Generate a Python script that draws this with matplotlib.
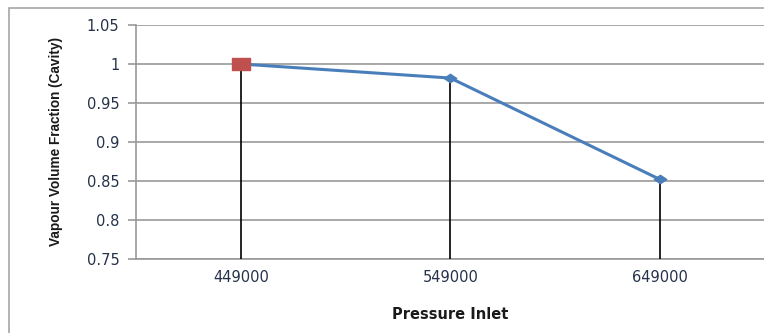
import matplotlib
matplotlib.use("Agg")
import matplotlib.pyplot as plt
from matplotlib.patches import Rectangle
from matplotlib.path import Path

# Data
pressure_inlet = ["449000", "549000", "649000"]
vapour_fraction = [1.0, 0.982, 0.852]

y_ticks = [0.75, 0.8, 0.85, 0.9, 0.95, 1.0, 1.05]
y_tick_labels = ["0.75", "0.8", "0.85", "0.9", "0.95", "1", "1.05"]

W, H = 764, 333
fig = plt.figure(figsize=(W / 100, H / 100), dpi=100)
fig.patch.set_facecolor("white")

# Outer chart frame
fig.add_artist(Rectangle((9 / W, -0.1), 2, 1 - 8 / H + 0.1, transform=fig.transFigure,
                         fill=False, edgecolor="#a6a6a6", linewidth=1.2))

ax = fig.add_axes([136 / W, 74 / H, 1 - 136 / W + 0.001, 234 / H])
ax.set_facecolor("none")

x = list(range(len(pressure_inlet)))
ax.set_xlim(-0.5, len(pressure_inlet) - 0.5)
ax.set_ylim(0.75, 1.05)

tick_font = {"family": ["DejaVu Sans"], "size": 10.5}
ax.set_yticks(y_ticks)
ax.set_yticklabels(y_tick_labels, fontdict=tick_font)
ax.set_xticks(x)
ax.set_xticklabels(pressure_inlet, fontdict=tick_font)

ax.grid(axis="y", color="#999999", linewidth=1.2)
ax.set_axisbelow(True)

for s in ["top", "right"]:
    ax.spines[s].set_visible(False)
for s in ["left", "bottom"]:
    ax.spines[s].set_color("#999999")
    ax.spines[s].set_linewidth(1.2)

ax.tick_params(axis="y", length=6, width=1.2, color="#999999", pad=6,
               labelcolor="#26324a")
ax.tick_params(axis="x", length=0, pad=8, labelcolor="#26324a")

# Wide marker shapes
wide_square = Path([(-1.5, -1), (1.5, -1), (1.5, 1), (-1.5, 1), (-1.5, -1)],
                   [Path.MOVETO, Path.LINETO, Path.LINETO, Path.LINETO, Path.CLOSEPOLY])
wide_diamond = Path([(-1.5, 0), (0, 1), (1.5, 0), (0, -1), (-1.5, 0)],
                    [Path.MOVETO, Path.LINETO, Path.LINETO, Path.LINETO, Path.CLOSEPOLY])

# Drop lines from each point to the category axis
ax.vlines(x, 0.75, vapour_fraction, color="black", linewidth=1.2, zorder=3)

# Series line with diamond markers
ax.plot(x, vapour_fraction, color="#4a7ebb", linewidth=2.2, marker=wide_diamond,
        markersize=9, markerfacecolor="#4a7ebb", markeredgecolor="#4a7ebb",
        zorder=4, solid_capstyle="round")
# Highlighted first point
ax.plot(x[0], vapour_fraction[0], marker=wide_square, markersize=13,
        markerfacecolor="#c0504d", markeredgecolor="#c0504d", zorder=5,
        linestyle="none")

label_font = ["Liberation Sans Narrow", "Liberation Sans", "DejaVu Sans"]
ax.set_ylabel("Vapour Volume Fraction (Cavity)", fontsize=9.8, fontweight="bold",
              family=label_font, color="#1a1a1a")
ax.yaxis.set_label_coords(-0.116, 0.5)
ax.set_xlabel("Pressure Inlet", fontsize=10.5, fontweight="bold",
              family=["DejaVu Sans"], color="#1a1a1a", labelpad=16)

fig.savefig("out.png", dpi=100)
